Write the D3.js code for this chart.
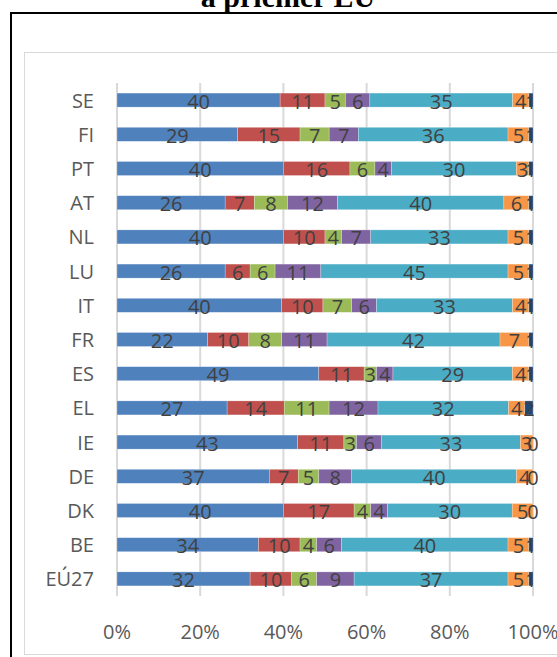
<!DOCTYPE html>
<html>
<head>
<meta charset="utf-8">
<script src="https://cdn.jsdelivr.net/npm/d3@7"></script>
<style>
  html, body { margin: 0; padding: 0; background: #fff; overflow: hidden; }
  svg { display: block; }
</style>
</head>
<body>
<svg width="557" height="657"></svg>
<script>
// categories, top to bottom
var categories = ["SE", "FI", "PT", "AT", "NL", "LU", "IT", "FR", "ES", "EL", "IE", "DE", "DK", "BE", "EÚ27"];

// one array per series (same order as categories)
var s1 = [40, 29, 40, 26, 40, 26, 40, 22, 49, 27, 43, 37, 40, 34, 32];
var s2 = [11, 15, 16, 7, 10, 6, 10, 10, 11, 14, 11, 7, 17, 10, 10];
var s3 = [5, 7, 6, 8, 4, 6, 7, 8, 3, 11, 3, 5, 4, 4, 6];
var s4 = [6, 7, 4, 12, 7, 11, 6, 11, 4, 12, 6, 8, 4, 6, 9];
var s5 = [35, 36, 30, 40, 33, 45, 33, 42, 29, 32, 33, 40, 30, 40, 37];
var s6 = [4, 5, 3, 6, 5, 5, 4, 7, 4, 4, 3, 4, 5, 5, 5];
var s7 = [1, 1, 1, 1, 1, 1, 1, 1, 1, 2, 0, 0, 0, 1, 1];

var seriesKeys = ["s1", "s2", "s3", "s4", "s5", "s6", "s7"];
var seriesColors = ["#4F81BD", "#C0504D", "#9BBB59", "#8064A2", "#4BACC6", "#F79646", "#1F497D"];
var xTicks = [0, 0.2, 0.4, 0.6, 0.8, 1];

var svg = d3.select("svg");

// title (only its last line shows at the top edge)
svg.append("text")
    .attr("x", 288)
    .attr("y", 7)
    .attr("text-anchor", "middle")
    .style("font-family", "'Liberation Serif', 'Times New Roman', serif")
    .style("font-weight", "bold")
    .style("font-size", "30px")
    .text("a priemer EÚ");

// outer black frame
svg.append("rect")
    .attr("x", 11).attr("y", 13)
    .attr("width", 700).attr("height", 800)
    .attr("fill", "none")
    .attr("stroke", "#000")
    .attr("stroke-width", 2);

// chart area frame
svg.append("rect")
    .attr("x", 24.5).attr("y", 52.5)
    .attr("width", 700).attr("height", 602)
    .attr("fill", "#fff")
    .attr("stroke", "#d9d9d9")
    .attr("stroke-width", 1);

// build table for the stack
var table = categories.map(function (c, i) {
    return { cat: c, s1: s1[i], s2: s2[i], s3: s3[i], s4: s4[i], s5: s5[i], s6: s6[i], s7: s7[i] };
});

var stacked = d3.stack()
    .keys(seriesKeys)
    .offset(d3.stackOffsetExpand)(table);

var x = d3.scaleLinear().domain([0, 1]).range([117, 533]);
var y = d3.scaleBand()
    .domain(categories)
    .range([83, 596])
    .paddingInner(0.59)
    .paddingOuter(0.295);

// gridlines
svg.append("g")
    .selectAll("line")
    .data(xTicks)
    .enter()
    .append("line")
    .attr("x1", d => x(d)).attr("x2", d => x(d))
    .attr("y1", 83).attr("y2", 596)
    .attr("stroke", "#d9d9d9")
    .attr("stroke-width", 2);

// x axis labels
svg.append("g")
    .selectAll("text")
    .data(xTicks)
    .enter()
    .append("text")
    .attr("x", d => x(d))
    .attr("y", 631)
    .attr("text-anchor", "middle")
    .attr("dominant-baseline", "central")
    .style("font-family", "'Open Sans', sans-serif")
    .style("font-size", "20px")
    .attr("fill", "#595959")
    .text(d => d3.format(".0%")(d));

// category labels
svg.append("g")
    .selectAll("text")
    .data(categories)
    .enter()
    .append("text")
    .attr("x", 94)
    .attr("y", d => y(d) + y.bandwidth() / 2)
    .attr("text-anchor", "end")
    .attr("dominant-baseline", "central")
    .style("font-family", "'Open Sans', sans-serif")
    .style("font-size", "20px")
    .attr("fill", "#595959")
    .text(d => d);

// bars
var layers = svg.append("g")
    .selectAll("g")
    .data(stacked)
    .enter()
    .append("g")
    .attr("fill", (d, i) => seriesColors[i]);

layers.selectAll("rect")
    .data(d => d)
    .enter()
    .append("rect")
    .attr("x", d => x(d[0]))
    .attr("width", d => x(d[1]) - x(d[0]))
    .attr("y", d => y(d.data.cat))
    .attr("height", y.bandwidth())
    .attr("stroke", "#fff")
    .attr("stroke-opacity", 0.5)
    .attr("stroke-width", 0.5);

// data labels
var labels = svg.append("g");
stacked.forEach(function (layer) {
    labels.selectAll(null)
        .data(layer)
        .enter()
        .append("text")
        .attr("x", d => (x(d[0]) + x(d[1])) / 2)
        .attr("y", d => y(d.data.cat) + y.bandwidth() / 2 + 1)
        .attr("text-anchor", "middle")
        .attr("dominant-baseline", "central")
        .style("font-family", "'Open Sans', sans-serif")
        .style("font-size", "20px")
        .attr("fill", "#404040")
        .text(d => d.data[layer.key]);
});
</script>
</body>
</html>
